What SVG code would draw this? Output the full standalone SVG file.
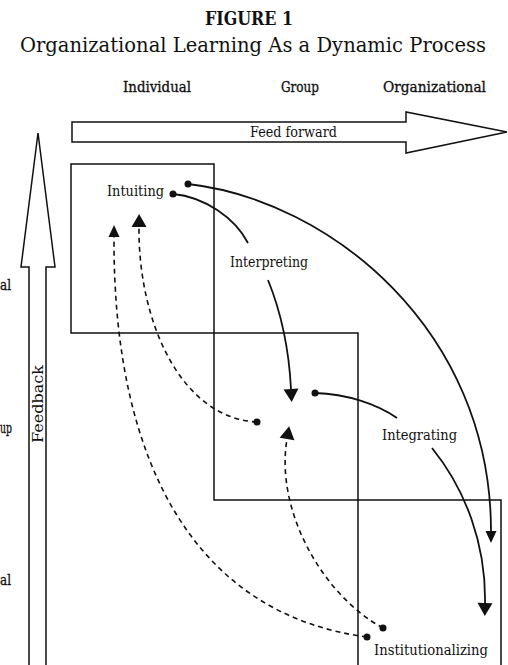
<svg xmlns="http://www.w3.org/2000/svg" width="508" height="665" viewBox="0 0 508 665">
<style>
text{font-family:"DejaVu Serif","Liberation Serif",serif;fill:#111}
.title{font-size:19px;font-weight:bold}
.sub{font-size:19.5px}
.col{font-size:15px;stroke:#111;stroke-width:0.35}
.lbl{font-size:14.5px}
.box{fill:none;stroke:#111;stroke-width:1.5}
.big{fill:#fff;stroke:#111;stroke-width:1.5;stroke-linejoin:miter}
.solid{fill:none;stroke:#111;stroke-width:1.8}
.dash{fill:none;stroke:#111;stroke-width:1.6;stroke-dasharray:5 4}
.dot{fill:#111}
</style>
<defs>
<marker id="hb" markerUnits="userSpaceOnUse" markerWidth="16" markerHeight="16" refX="0" refY="7.5" orient="auto" overflow="visible"><path d="M0,0 L13,7.5 L0,15 Z" fill="#111"/></marker>
<marker id="hs" markerUnits="userSpaceOnUse" markerWidth="14" markerHeight="12" refX="0" refY="5.5" orient="auto" overflow="visible"><path d="M0,0 L12,5.5 L0,11 Z" fill="#111"/></marker>
</defs>
<g id="title">
<text class="title" x="249" y="25" text-anchor="middle" textLength="88" lengthAdjust="spacingAndGlyphs">FIGURE 1</text>
<text class="sub" x="20" y="52" textLength="466" lengthAdjust="spacingAndGlyphs">Organizational Learning As a Dynamic Process</text>
</g>
<g id="column-labels">
<text class="col" x="123" y="92" textLength="68" lengthAdjust="spacingAndGlyphs">Individual</text>
<text class="col" x="281" y="92" textLength="38" lengthAdjust="spacingAndGlyphs">Group</text>
<text class="col" x="383" y="92" textLength="103" lengthAdjust="spacingAndGlyphs">Organizational</text>
</g>
<g id="row-labels">
<text class="col" x="0" y="290" textLength="11" lengthAdjust="spacingAndGlyphs">al</text>
<text class="col" x="0" y="433" textLength="12" lengthAdjust="spacingAndGlyphs">up</text>
<text class="col" x="0" y="585" textLength="11" lengthAdjust="spacingAndGlyphs">al</text>
</g>
<g id="feed-forward">
<polygon class="big" points="72,122 406,122 406,112 507,132 406,153 406,142 72,142"/>
<text class="lbl" x="250" y="137" textLength="87" lengthAdjust="spacingAndGlyphs">Feed forward</text>
</g>
<g id="feedback">
<polygon class="big" points="29,670 29,267 21,267 38,133 55,267 46,267 46,670"/>
<text class="lbl" transform="translate(43,404) rotate(-90)" text-anchor="middle" textLength="78" lengthAdjust="spacingAndGlyphs">Feedback</text>
</g>
<g id="individual-level"><rect class="box" x="71" y="164" width="143" height="169"/></g>
<g id="group-level"><path class="box" d="M214,333 H358 V500 H214 Z"/></g>
<g id="organizational-level"><path class="box" d="M358,670 V500 H501 V670"/></g>
<g id="intuiting"><text class="lbl" x="107" y="196" textLength="57" lengthAdjust="spacingAndGlyphs">Intuiting</text></g>
<g id="interpreting"><text class="lbl" x="230" y="267" textLength="78" lengthAdjust="spacingAndGlyphs">Interpreting</text></g>
<g id="integrating"><text class="lbl" x="382" y="440" textLength="75" lengthAdjust="spacingAndGlyphs">Integrating</text></g>
<g id="institutionalizing"><text class="lbl" x="374" y="655" textLength="114" lengthAdjust="spacingAndGlyphs">Institutionalizing</text></g>
<g id="connectors">
<path class="solid" d="M173,194 C205,197 235,218 248,243"/>
<path class="solid" d="M268,280 C281,312 289,350 291,389" marker-end="url(#hb)"/>
<path class="solid" d="M188,184 C330,200 491,330 491,531" marker-end="url(#hs)"/>
<path class="solid" d="M315,393 C347,394 377,404 397,418"/>
<path class="solid" d="M432,448 C466,490 486,545 485,603" marker-end="url(#hb)"/>
<path class="dash" d="M257,422 C180,418 138,320 139,227" marker-end="url(#hb)"/>
<path class="dash" d="M367,637 C200,615 113,470 114,237" marker-end="url(#hs)"/>
<path class="dash" d="M383,628 C322,595 275,510 287,439" marker-end="url(#hb)"/>
<circle class="dot" cx="173" cy="194" r="3.5"/>
<circle class="dot" cx="188" cy="184" r="3.5"/>
<circle class="dot" cx="315" cy="393" r="3.5"/>
<circle class="dot" cx="257" cy="422" r="3.5"/>
<circle class="dot" cx="367" cy="637" r="3.5"/>
<circle class="dot" cx="383" cy="628" r="3.5"/>
</g>
</svg>
